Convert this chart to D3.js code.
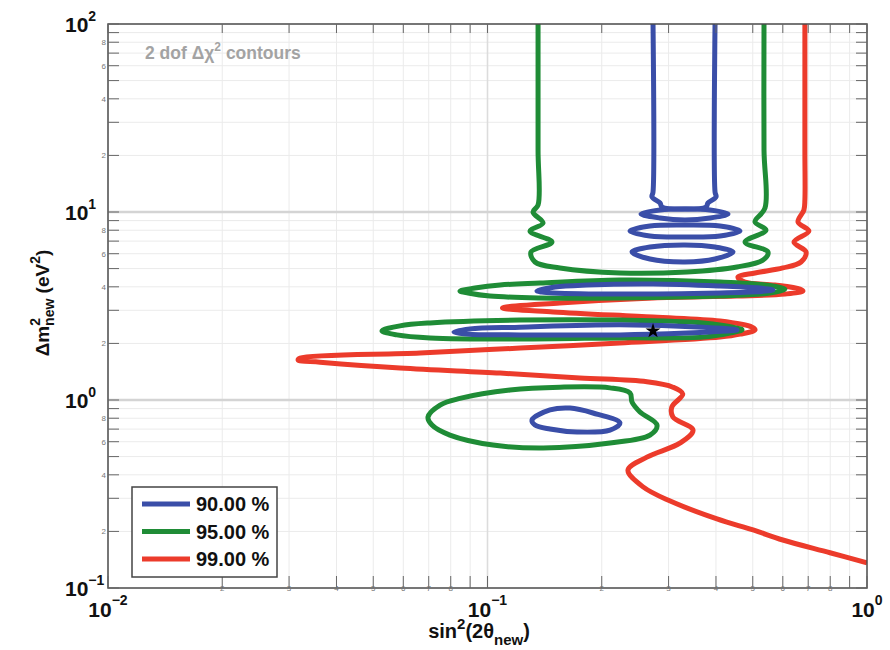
<!DOCTYPE html>
<html><head><meta charset="utf-8">
<script src="https://cdn.jsdelivr.net/npm/d3@7"></script>
<style>
body{margin:0;background:#fff;}
svg{display:block;}
text{font-family:"Liberation Sans",Arial,Helvetica,sans-serif;}
</style>
</head><body>
<svg id="c" width="890" height="650"></svg>
<script>
// ---------- data ----------
const xDomain = [0.01, 1];
const yDomain = [0.1, 100];
const xDecades = [{v:0.01,e:"\u22122"},{v:0.1,e:"\u22121"},{v:1,e:"0"}];
const yDecades = [{v:0.1,e:"\u22121"},{v:1,e:"0"},{v:10,e:"1"},{v:100,e:"2"}];
const xMinorLabels = [2,3,4,5,6,7,8];
const yMinorLabels = [2,4,6,8];
const legendLabels = ["90.00 %","95.00 %","99.00 %"];
const bestFit = [0.273, 2.33];

// 99% CL (open contour)
const red99 = [[0.686,100],[0.686,21.4],[0.686,11.6],[0.682,10.25],[0.658,8.85],[0.703,7.92],[0.642,6.92],[0.691,6.13],[0.670,5.42],[0.600,5.04],[0.507,4.74],[0.457,4.51],[0.477,4.24],[0.572,4.09],[0.666,3.89],[0.678,3.80],[0.608,3.66],[0.454,3.57],[0.273,3.49],[0.155,3.28],[0.1095,3.09],[0.149,2.94],[0.273,2.76],[0.410,2.63],[0.498,2.44],[0.507,2.36],[0.463,2.24],[0.410,2.16],[0.223,2.01],[0.122,1.89],[0.0664,1.78],[0.0321,1.67],[0.0317,1.63],[0.0362,1.59],[0.0588,1.48],[0.108,1.39],[0.175,1.31],[0.263,1.25],[0.308,1.17],[0.327,1.076],[0.306,0.918],[0.308,0.812],[0.348,0.692],[0.322,0.591],[0.263,0.497],[0.2345,0.424],[0.257,0.345],[0.303,0.290],[0.4025,0.233],[0.501,0.2035],[0.600,0.180],[0.799,0.154],[1.0,0.136]];

// 95% CL
const green95Open = [[0.1359,100],[0.1359,21.4],[0.1359,10.89],[0.1318,10.0],[0.1401,8.74],[0.1294,7.92],[0.1479,6.92],[0.1302,6.13],[0.1334,5.42],[0.1552,5.04],[0.2234,4.74],[0.3355,4.80],[0.4544,5.10],[0.5321,5.55],[0.5484,6.13],[0.4771,6.92],[0.5418,8.02],[0.5068,8.85],[0.5385,10.50],[0.5353,21.4],[0.5353,100]];
const green95LoopA = [[0.0846,3.80],[0.0927,3.94],[0.1079,4.09],[0.1375,4.19],[0.2234,4.35],[0.4099,4.24],[0.5385,4.09],[0.6078,3.89],[0.5551,3.71],[0.4099,3.57],[0.2234,3.49],[0.1375,3.49],[0.1015,3.57],[0.0889,3.71]];
const green95LoopB = [[0.0527,2.33],[0.0588,2.48],[0.0706,2.57],[0.1218,2.66],[0.2234,2.66],[0.3699,2.57],[0.4517,2.42],[0.4684,2.36],[0.4355,2.27],[0.3699,2.16],[0.2234,2.14],[0.1218,2.11],[0.0706,2.14],[0.0577,2.22]];
const green95LoopC = [[0.0697,0.812],[0.0750,0.940],[0.0846,1.02],[0.1146,1.13],[0.1552,1.17],[0.2103,1.16],[0.2374,1.09],[0.2403,0.976],[0.2522,0.864],[0.2797,0.736],[0.2680,0.651],[0.2103,0.591],[0.1401,0.556],[0.1034,0.576],[0.0796,0.651],[0.0714,0.736]];

// 90% CL
const blue90Open = [[0.2730,100],[0.2730,12.78],[0.2713,12.02],[0.2848,11.17],[0.2883,10.63],[0.3314,10.37],[0.3766,10.63],[0.3811,11.17],[0.4001,12.02],[0.3977,12.78],[0.3977,100]];
const blue90LoopA = [[0.2538,9.76],[0.2848,10.25],[0.3314,10.37],[0.3858,10.25],[0.4303,9.76],[0.3858,9.29],[0.3314,9.07],[0.2848,9.29]];
const blue90LoopB = [[0.2374,7.92],[0.2680,8.42],[0.3314,8.53],[0.4099,8.42],[0.4627,7.92],[0.4099,7.45],[0.3314,7.36],[0.2680,7.45]];
const blue90LoopC = [[0.2403,6.13],[0.2680,6.51],[0.3314,6.68],[0.3977,6.51],[0.4436,6.13],[0.3977,5.62],[0.3314,5.42],[0.2680,5.62]];
const blue90LoopD = [[0.1350,3.80],[0.1506,3.99],[0.1829,4.09],[0.2730,4.14],[0.4099,4.04],[0.5224,3.94],[0.5653,3.85],[0.4917,3.75],[0.4099,3.71],[0.2234,3.66],[0.1488,3.71],[0.1392,3.75]];
const blue90LoopE = [[0.0816,2.30],[0.0899,2.39],[0.1218,2.44],[0.2234,2.51],[0.3699,2.44],[0.4544,2.36],[0.3858,2.30],[0.3355,2.27],[0.2234,2.22],[0.1218,2.22],[0.0899,2.24]];
const blue90LoopF = [[0.1310,0.783],[0.1461,0.885],[0.1650,0.906],[0.1897,0.853],[0.2234,0.755],[0.2103,0.692],[0.1721,0.676],[0.1461,0.701],[0.1334,0.736]];

// ---------- drawing ----------
const COL = {blue:"#3a4ea8", green:"#1f8c36", red:"#ec3b2b"};
const L=108, R=867, T=24, B=588;
const svg = d3.select("#c");
const x = d3.scaleLog().domain(xDomain).range([L,R]);
const y = d3.scaleLog().domain(yDomain).range([B,T]);
const xt = x.ticks(), yt = y.ticks();
const lead = v => Math.round(v/Math.pow(10,Math.floor(Math.log10(v)+1e-9)));
const isDec = v => lead(v)===1;

svg.append("rect").attr("width",890).attr("height",650).attr("fill","#fff");

// grid
const g = svg.append("g");
g.selectAll(".gx").data(xt.filter(v=>!isDec(v))).join("line")
  .attr("x1",d=>x(d)).attr("x2",d=>x(d)).attr("y1",T).attr("y2",B)
  .attr("stroke","#ebebeb").attr("stroke-width",1);
g.selectAll(".gy").data(yt.filter(v=>!isDec(v))).join("line")
  .attr("y1",d=>y(d)).attr("y2",d=>y(d)).attr("x1",L).attr("x2",R)
  .attr("stroke","#ebebeb").attr("stroke-width",1);
g.selectAll(".gxm").data(xt.filter(v=>isDec(v)&&v>xDomain[0]&&v<xDomain[1])).join("line")
  .attr("x1",d=>x(d)).attr("x2",d=>x(d)).attr("y1",T).attr("y2",B)
  .attr("stroke","#dcdcdc").attr("stroke-width",1.6);
g.selectAll(".gym").data(yt.filter(v=>isDec(v)&&v>yDomain[0]&&v<yDomain[1])).join("line")
  .attr("y1",d=>y(d)).attr("y2",d=>y(d)).attr("x1",L).attr("x2",R)
  .attr("stroke","#d4d4d4").attr("stroke-width",2.6);

// contours
svg.append("clipPath").attr("id","clip").append("rect")
  .attr("x",L).attr("y",T).attr("width",R-L).attr("height",B-T);
const cg = svg.append("g").attr("clip-path","url(#clip)");
const lineOpen = d3.line().x(d=>x(d[0])).y(d=>y(d[1])).curve(d3.curveCatmullRom.alpha(0.5));
const lineClosed = d3.line().x(d=>x(d[0])).y(d=>y(d[1])).curve(d3.curveCatmullRomClosed.alpha(0.5));
const draw = (data, closed, col) => cg.append("path").attr("d",(closed?lineClosed:lineOpen)(data))
  .attr("fill","none").attr("stroke",col).attr("stroke-width",5).attr("stroke-linejoin","round");
draw(red99,false,COL.red);
draw(green95Open,false,COL.green);
[green95LoopA,green95LoopB,green95LoopC].forEach(d=>draw(d,true,COL.green));
draw(blue90Open,false,COL.blue);
[blue90LoopA,blue90LoopB,blue90LoopC,blue90LoopD,blue90LoopE,blue90LoopF].forEach(d=>draw(d,true,COL.blue));

// best fit star
svg.append("path").attr("d",d3.symbol(d3.symbolStar).size(70)())
  .attr("transform",`translate(${x(bestFit[0])},${y(bestFit[1])})`).attr("fill","#000");

// frame
svg.append("rect").attr("x",L).attr("y",T).attr("width",R-L).attr("height",B-T)
  .attr("fill","none").attr("stroke","#4a4a4a").attr("stroke-width",1.5);

// ticks
const tk = svg.append("g").attr("stroke","#666").attr("stroke-width",1);
yt.forEach(v=>{
  const p=y(v);
  tk.append("line").attr("x1",L).attr("x2",L+11).attr("y1",p).attr("y2",p);
  tk.append("line").attr("x1",R).attr("x2",R-11).attr("y1",p).attr("y2",p);
});
xt.forEach(v=>{
  const p=x(v);
  tk.append("line").attr("x1",p).attr("x2",p).attr("y1",B).attr("y2",B-12);
  tk.append("line").attr("x1",p).attr("x2",p).attr("y1",T).attr("y2",T+9);
});

// minor labels
svg.selectAll(".ylab").data(yt.filter(v=>yMinorLabels.includes(lead(v)))).join("text")
  .attr("x",L-2).attr("y",d=>y(d)+3).attr("text-anchor","end")
  .attr("font-size",8).attr("fill","#777").text(d=>lead(d));
svg.selectAll(".xlab").data(xt.filter(v=>xMinorLabels.includes(lead(v)))).join("text")
  .attr("x",d=>x(d)).attr("y",B+3).attr("text-anchor","middle")
  .attr("font-size",8).attr("fill","#777").text(d=>lead(d));

// decade labels
yDecades.forEach(d=>{
  const t=svg.append("text").attr("x",65).attr("y",y(d.v)+7.5)
    .attr("font-size",21).attr("font-weight","bold").attr("fill","#111");
  t.append("tspan").text("10");
  t.append("tspan").attr("dy",-11).attr("font-size",14).text(d.e);
});
xDecades.forEach(d=>{
  const t=svg.append("text").attr("x",x(d.v)).attr("y",617).attr("text-anchor","middle")
    .attr("font-size",21).attr("font-weight","bold").attr("fill","#111");
  t.append("tspan").text("10");
  t.append("tspan").attr("dy",-12).attr("font-size",14).text(d.e);
});

// axis titles
const yt1 = svg.append("text").attr("transform","translate(49,303) rotate(-90)")
  .attr("text-anchor","middle").attr("font-size",19).attr("font-weight","bold").attr("fill","#111");
yt1.append("tspan").text("\u0394m");
yt1.append("tspan").attr("dy",-9).attr("font-size",14).text("2");
yt1.append("tspan").attr("dy",14).attr("dx",-8).attr("font-size",14).text("new");
yt1.append("tspan").attr("dy",-5).text(" (eV");
yt1.append("tspan").attr("dy",-9).attr("font-size",14).text("2");
yt1.append("tspan").attr("dy",9).text(")");

const xt1 = svg.append("text").attr("x",479).attr("y",638)
  .attr("text-anchor","middle").attr("font-size",20).attr("font-weight","bold").attr("fill","#111");
xt1.append("tspan").text("sin");
xt1.append("tspan").attr("dy",-9).attr("font-size",15).text("2");
xt1.append("tspan").attr("dy",9).text("(2\u03b8");
xt1.append("tspan").attr("dy",7).attr("font-size",15).text("new");
xt1.append("tspan").attr("dy",-7).text(")");

// annotation
const an = svg.append("text").attr("x",145).attr("y",59)
  .attr("font-size",17.5).attr("font-weight","bold").attr("fill","#a3a3a3");
an.append("tspan").text("2 dof \u0394\u03c7");
an.append("tspan").attr("dy",-8).attr("font-size",12).text("2");
an.append("tspan").attr("dy",8).text(" contours");

// legend
const lg = svg.append("g");
lg.append("rect").attr("x",132).attr("y",487).attr("width",145).attr("height",90)
  .attr("fill","#fff").attr("stroke","#444").attr("stroke-width",1.5);
const lcols=[COL.blue,COL.green,COL.red];
legendLabels.forEach((s,i)=>{
  const yy=504+i*27.5;
  lg.append("line").attr("x1",142).attr("x2",190).attr("y1",yy).attr("y2",yy)
    .attr("stroke",lcols[i]).attr("stroke-width",5);
  lg.append("text").attr("x",196).attr("y",yy+7).attr("font-size",20).attr("font-weight","bold")
    .attr("fill","#111").text(s);
});
</script>
</body></html>
